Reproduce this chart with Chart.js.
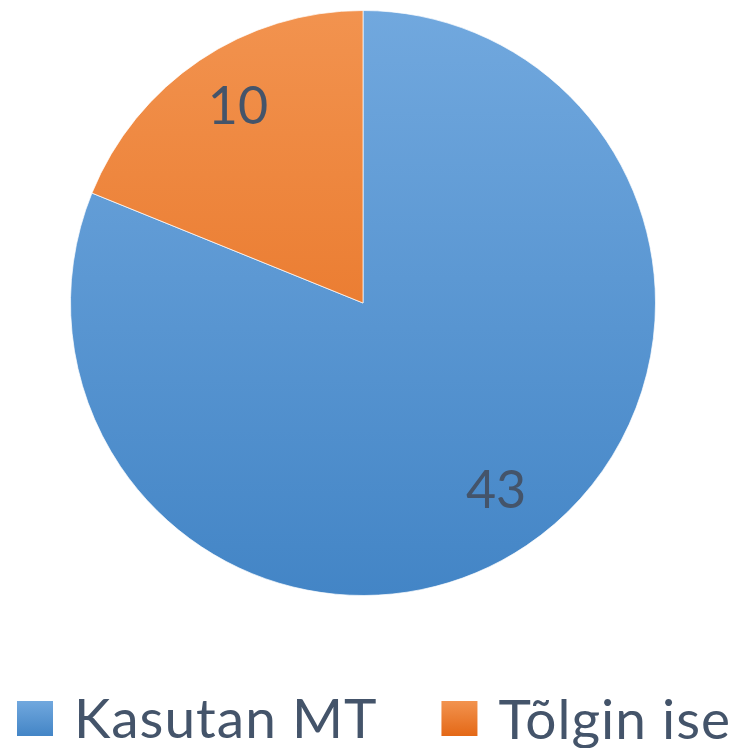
<!DOCTYPE html>
<html>
<head>
<meta charset="utf-8">
<script src="https://cdn.jsdelivr.net/npm/chart.js@4.4.1/dist/chart.umd.min.js"></script>
<style>
  html, body { margin: 0; padding: 0; background: #fff; }
  #wrap { width: 732px; height: 748px; }
</style>
</head>
<body>
<div id="wrap"><canvas id="pieChart" width="732" height="748"></canvas></div>
<script>
// data
const categories = ['Kasutan MT', 'Tõlgin ise'];
const values = [43, 10];

// gradient ends for each slice (top -> bottom)
const topColors = ['#71a8de', '#f2934f'];
const bottomColors = ['#4385c6', '#e46816'];
const textColor = '#44546a';
const fontFamily = 'Lato, "Open Sans", sans-serif';

function verticalGradient(ctx, y0, y1, i) {
    const g = ctx.createLinearGradient(0, y0, 0, y1);
    g.addColorStop(0, topColors[i]);
    g.addColorStop(1, bottomColors[i]);
    return g;
}

function sliceFill(context) {
    const chart = context.chart;
    const area = chart.chartArea;
    const i = context.dataIndex;
    if (!area) return bottomColors[i];
    const cy = (area.top + area.bottom) / 2;
    const r = Math.min(area.right - area.left, area.bottom - area.top) / 2;
    return verticalGradient(chart.ctx, cy - r, cy + r, i);
}

// value labels inside the slices
const sliceLabels = {
    id: 'sliceLabels',
    afterDatasetsDraw(chart) {
        const ctx = chart.ctx;
        const meta = chart.getDatasetMeta(0);
        ctx.save();
        ctx.fillStyle = textColor;
        ctx.font = '52px ' + fontFamily;
        ctx.textAlign = 'center';
        ctx.textBaseline = 'alphabetic';
        meta.data.forEach((arc, i) => {
            const p = arc.getProps(['x', 'y', 'startAngle', 'endAngle', 'outerRadius'], true);
            const mid = (p.startAngle + p.endAngle) / 2;
            const cx = p.x + Math.cos(mid) * p.outerRadius * 0.79 + 4;
            const cy = p.y + Math.sin(mid) * p.outerRadius * 0.79 - 6;
            const text = String(chart.data.datasets[0].data[i]);
            const m = ctx.measureText(text);
            ctx.fillText(text, cx, cy + (m.actualBoundingBoxAscent - m.actualBoundingBoxDescent) / 2);
        });
        ctx.restore();
    }
};

// legend row under the pie
const bottomLegend = {
    id: 'bottomLegend',
    afterDraw(chart) {
        const ctx = chart.ctx;
        const midY = 718.5;
        const boxW = 36, boxH = 35;
        let x = 17;
        ctx.save();
        ctx.font = '55px ' + fontFamily;
        ctx.letterSpacing = '1px';
        ctx.textBaseline = 'alphabetic';
        ctx.textAlign = 'left';
        chart.data.labels.forEach((label, i) => {
            ctx.fillStyle = verticalGradient(ctx, midY - boxH / 2, midY + boxH / 2, i);
            ctx.fillRect(x, midY - boxH / 2, boxW, boxH);
            x += boxW + 21;
            const m = ctx.measureText(label);
            ctx.fillStyle = textColor;
            ctx.fillText(label, x, midY + m.actualBoundingBoxAscent / 2);
            x += m.width + 64;
        });
        ctx.restore();
    }
};

const ctx = document.getElementById('pieChart').getContext('2d');
new Chart(ctx, {
    type: 'pie',
    data: {
        labels: categories,
        datasets: [{
            data: values,
            backgroundColor: sliceFill,
            borderColor: 'rgba(255,255,255,0.7)',
            borderWidth: 1
        }]
    },
    options: {
        responsive: false,
        animation: false,
        layout: { padding: { top: 10, bottom: 152, right: 6 } },
        plugins: {
            legend: { display: false },
            tooltip: { enabled: false }
        }
    },
    plugins: [sliceLabels, bottomLegend]
});
</script>
</body>
</html>
